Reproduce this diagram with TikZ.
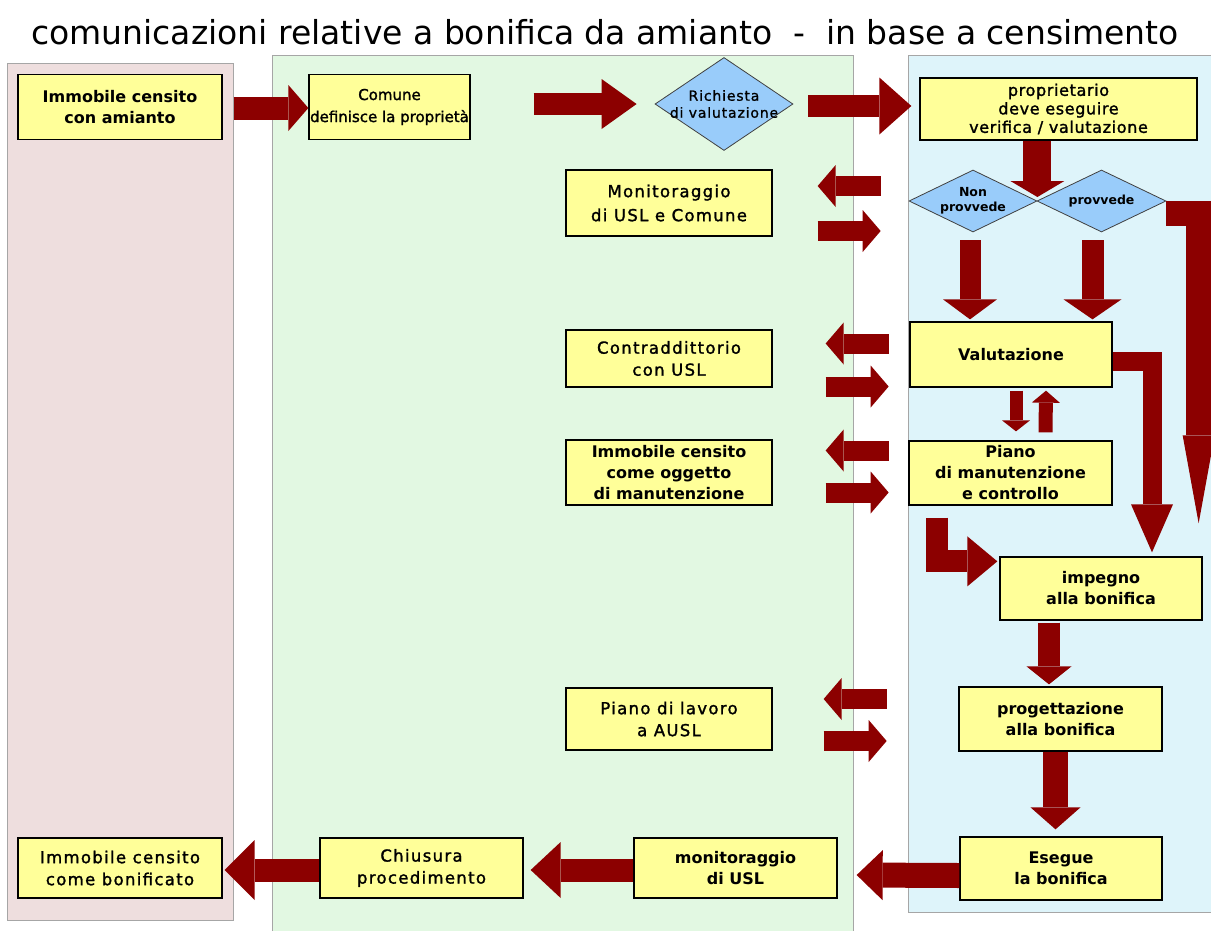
\documentclass[tikz,border=0pt]{standalone}
\usepackage{fontspec}
\setmainfont{DejaVu Sans}
\usetikzlibrary{arrows.meta,shapes.geometric,calc}
\definecolor{boxyellow}{RGB}{255,255,153}
\definecolor{diablue}{RGB}{153,204,250}
\definecolor{arrowred}{RGB}{140,0,0}
\definecolor{pinkbg}{RGB}{238,222,222}
\definecolor{greenbg}{RGB}{226,248,226}
\definecolor{bluebg}{RGB}{222,244,250}

\begin{document}
\begin{tikzpicture}[x=1pt,y=-1pt]
        \tikzset{block/.style={draw, rectangle, fill=boxyellow, line width=1.3pt, align=center, minimum width=203, minimum height=63, inner sep=1pt},
        regbox/.style={block, font=\fontsize{16.5}{22}\selectfont\addfontfeature{LetterSpace=8,FakeBold=1.5}},
        boldbox/.style={block, font=\bfseries\fontsize{16}{21}\selectfont},
        choice/.style={draw=black!75, diamond, fill=diablue, inner sep=0pt, line width=0.8pt},
        choicetext/.style={align=center, font=\fontsize{14}{17}\selectfont\addfontfeature{LetterSpace=6,FakeBold=1}},
        choicebold/.style={align=center, font=\bfseries\fontsize{12.5}{15}\selectfont},
        fatarrow/.style n args={3}{draw=arrowred, line width=#1, -{Triangle[length=#3,width=#2,line width=0pt]}}
        }
        \useasboundingbox (0,0) rectangle (1211,930);
%% lanes
        \filldraw[fill=pinkbg, draw=gray!70] (7,63) rectangle (233,920);
        \filldraw[fill=greenbg, draw=gray!70] (272,55) rectangle (853,940);
        \filldraw[fill=bluebg, draw=gray!70] (908,55) rectangle (1216,912);
        \node[font=\fontsize{33}{36}\selectfont] (title) at (605,32) {comunicazioni relative a bonifica da amianto\ \ -\ \ in base a censimento};
%% boxes
        \node [boldbox, minimum width=204, minimum height=65] (immA) at (120,107) {Immobile censito\\con amianto};
        \node [regbox, minimum width=161, minimum height=65, font=\fontsize{15}{22}\selectfont\addfontfeature{FakeBold=1.5}] (comune) at (389.5,107) {Comune\\definisce la proprietà};
        \node [choice, minimum width=138, minimum height=93, label={[choicetext]center:{Richiesta\\di valutazione}}] (richiesta) at (724,104) {};
        \node [regbox, minimum width=277, minimum height=62, font=\fontsize{16}{18.5}\selectfont\addfontfeature{LetterSpace=4,FakeBold=1.5}] (propr) at (1058.5,109) {proprietario\\deve eseguire\\verifica / valutazione};
        \node [choice, minimum width=128, minimum height=62, label={[choicebold]center:{Non\\provvede}}] (nonprov) at (973,201) {};
        \node [choice, minimum width=129, minimum height=62, label={[choicebold]center:provvede}] (prov) at (1101.5,201) {};
        \node [regbox, minimum width=206, minimum height=66, font=\fontsize{16.5}{24}\selectfont\addfontfeature{LetterSpace=8,FakeBold=1.5}] (monit) at (669,203) {Monitoraggio\\di USL e Comune};
        \node [regbox, minimum width=206, minimum height=57] (contr) at (669,358.5) {Contraddittorio\\con USL};
        \node [boldbox, minimum width=202, minimum height=65] (valut) at (1011,354.5) {Valutazione};
        \node [boldbox, minimum width=206, minimum height=65] (immM) at (669,472.5) {Immobile censito\\come oggetto\\di manutenzione};
        \node [boldbox, minimum height=64] (piano) at (1010.5,473) {Piano\\di manutenzione\\e controllo};
        \node [boldbox, minimum width=202] (impegno) at (1101,588.5) {impegno\\alla bonifica};
        \node [regbox, minimum width=206, minimum height=62] (lavoro) at (669,719) {Piano di lavoro\\a AUSL};
        \node [boldbox, minimum height=64] (progett) at (1060.5,719) {progettazione\\alla bonifica};
        \node [regbox, minimum width=204, minimum height=60] (immB) at (120,868) {Immobile censito\\come bonificato};
        \node [regbox, minimum height=60] (chius) at (421.5,868) {Chiusura\\procedimento};
        \node [boldbox, minimum height=60] (monUSL) at (735.5,868) {monitoraggio\\di USL};
        \node [boldbox, minimum width=202] (esegue) at (1061,868.5) {Esegue\\la bonifica};
%% paths
        \draw[fatarrow={23pt}{46pt}{20pt}] ($(immA.east)+(11,1)$) -- ($(comune.west)+(0,1)$);
        \draw[fatarrow={22pt}{50pt}{35pt}] ($(comune.east)+(63,-3)$) -- ($(richiesta.west)+(-18,0)$);
        \draw[fatarrow={22pt}{57pt}{32pt}] ($(richiesta.east)+(15,2)$) -- ($(propr.west)+(-8,-3)$);
        \draw[fatarrow={28pt}{54pt}{16pt}] (propr.south -| nonprov.east) -- ($(nonprov.east)+(0,-4)$);
        \draw[fatarrow={21pt}{54pt}{20pt}] ($(nonprov.south)+(-3,8)$) -- ($(nonprov.south |- valut.north)+(-3,-2)$);
        \draw[fatarrow={22pt}{58pt}{20pt}] ($(prov.south)+(-9,8)$) -- ($(prov.south |- valut.north)+(-9,-2)$);
        \draw[fatarrow={25pt}{32pt}{88pt}] ($(prov.east)+(0,12)$) -| ($(impegno.north east)+(-4,-33)$);
        \draw[fatarrow={19pt}{42pt}{48pt}] ($(valut.east)+(0,7)$) -| ($(impegno.north)+(51,-4)$);
        \draw[fatarrow={13pt}{28pt}{11pt}] ($(valut.south)+(5,3)$) -- ($(piano.north)+(5.5,-9)$);
        \draw[fatarrow={14pt}{28pt}{12pt}] ($(piano.north)+(35,-8)$) -- ($(valut.south)+(35,3)$);
        \draw[fatarrow={22pt}{50pt}{30pt}] ($(piano.south west)+(29,12)$) |- ($(impegno.north west)+(-2,5)$);
        \draw[fatarrow={22pt}{45pt}{18pt}] ($(impegno.south)+(-52,2)$) -- ($(progett.north)+(-11.5,-2)$);
        \draw[fatarrow={25pt}{50pt}{22pt}] ($(progett.south)+(-5,0)$) -- ($(esegue.north)+(-5.5,-7)$);
        \draw[fatarrow={25pt}{50pt}{26pt}] ($(esegue.west)+(0,7)$) -- ($(monUSL.east)+(19,7)$);
        \draw[fatarrow={23pt}{56pt}{30pt}] ($(monUSL.west)+(0,2)$) -- ($(chius.east)+(7,2)$);
        \draw[fatarrow={23pt}{60pt}{30pt}] ($(chius.west)+(0,2)$) -- ($(immB.east)+(2,2)$);
        % exchanges with USL / Comune
        \foreach \b/\up/\dn/\gap in {monit/-17/28/45, contr/-15/28/53, immM/-22/20/53, lavoro/-20/22/51} {
            \draw[fatarrow={20pt}{42pt}{18pt}] ($(\b.east)+(\gap+63,\up)$) -- ($(\b.east)+(\gap,\up)$);
            \draw[fatarrow={20pt}{42pt}{18pt}] ($(\b.east)+(\gap,\dn)$) -- ($(\b.east)+(\gap+63,\dn)$);
        }
    \end{tikzpicture}
\end{document}
